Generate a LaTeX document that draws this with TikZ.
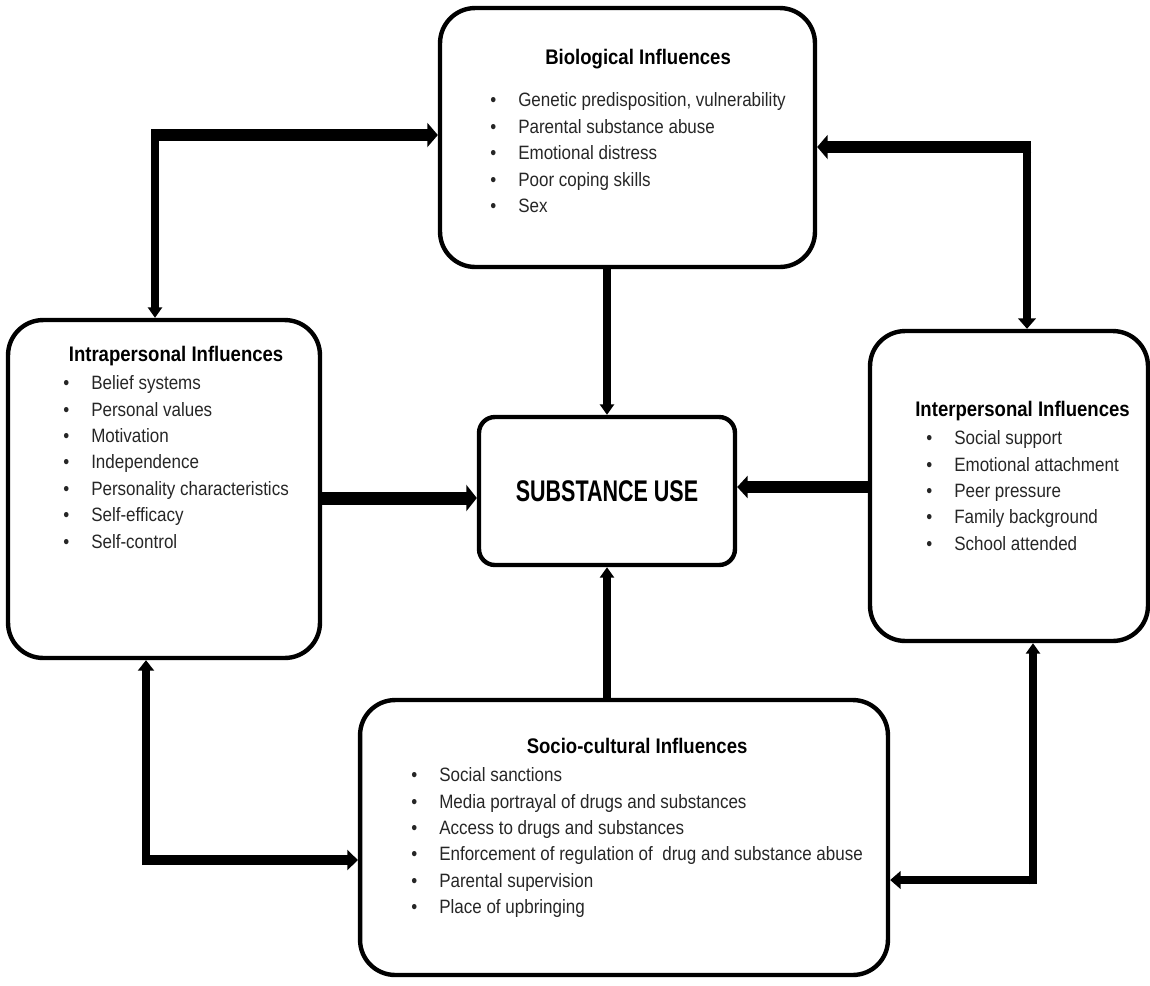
\documentclass[tikz,border=0pt]{standalone}
\usepackage{fontspec}
\setmainfont[FakeStretch=0.88]{Liberation Sans}
\newfontfamily\tallfont[FakeStretch=0.72]{Liberation Sans}
\usetikzlibrary{arrows.meta}

\newcommand{\headfont}{\fontsize{12}{15}\selectfont\bfseries\color{black}}
\newcommand{\itm}[1]{\textbullet & #1\\}
\newcommand{\boxtitle}[1]{\multicolumn{2}{@{}c@{}}{\makebox[0pt]{\headfont #1}}}

\begin{document}
\begin{tikzpicture}[
  x=0.02cm, y=-0.02cm,
  infbox/.style={draw, line width=2.5pt, rounded corners=20pt, inner sep=0pt},
  itemlist/.style={inner sep=0pt, anchor=north west,
    font=\fontsize{11}{15}\selectfont, text=black!85},
  link/.style={-{Triangle[length=6pt, width=0pt 2]}}
]
\useasboundingbox (0,0) rectangle (1150,985);

% boxes
\node[infbox, minimum width=7.5cm, minimum height=5.18cm] (bio) at (627.5,137.5) {};
\node[infbox, minimum width=6.24cm, minimum height=6.76cm] (intra) at (164,489) {};
\node[infbox, minimum width=5.56cm, minimum height=6.2cm] (interp) at (1009,486) {};
\node[infbox, minimum width=10.56cm, minimum height=5.5cm] (socio) at (624,837.5) {};
\node[infbox, rounded corners=9pt, minimum width=5.12cm, minimum height=2.96cm,
  font=\tallfont\fontsize{17}{20}\selectfont\bfseries] (subst) at (607,491) {SUBSTANCE USE};

% lists
\node[itemlist] (biolist) at (490,46) {%
  \begin{tabular}{@{}l@{\hspace{12.5pt}}l@{}}
  \boxtitle{Biological Influences}\\[9pt]
  \itm{Genetic predisposition, vulnerability}
  \itm{Parental substance abuse}
  \itm{Emotional distress}
  \itm{Poor coping skills}
  \itm{Sex}
  \end{tabular}};
\node[itemlist] (intralist) at (63,343) {%
  \begin{tabular}{@{}l@{\hspace{12.5pt}}l@{}}
  \boxtitle{Intrapersonal Influences}\\[1pt]
  \itm{Belief systems}
  \itm{Personal values}
  \itm{Motivation}
  \itm{Independence}
  \itm{Personality characteristics}
  \itm{Self-efficacy}
  \itm{Self-control}
  \end{tabular}};
\node[itemlist] (interplist) at (926,398) {%
  \begin{tabular}{@{}l@{\hspace{12.5pt}}l@{}}
  \boxtitle{Interpersonal Influences}\\[1pt]
  \itm{Social support}
  \itm{Emotional attachment}
  \itm{Peer pressure}
  \itm{Family background}
  \itm{School attended}
  \end{tabular}};
\node[itemlist] (sociolist) at (411,735) {%
  \begin{tabular}{@{}l@{\hspace{12.5pt}}l@{}}
  \boxtitle{Socio-cultural Influences}\\[1pt]
  \itm{Social sanctions}
  \itm{Media portrayal of drugs and substances}
  \itm{Access to drugs and substances}
  \itm{Enforcement of regulation of~ drug and substance abuse}
  \itm{Parental supervision}
  \itm{Place of upbringing}
  \end{tabular}};

% corners of the elbow connectors
\coordinate (tlc) at (155,135);
\coordinate (trc) at (1027,147);
\coordinate (blc) at (146,860);
\coordinate (brc) at (1033,880);
\coordinate (la) at (0,498);
\coordinate (ra) at (0,487);

% elbow connectors
\draw[link, line width=6.8pt] ([xshift=-2pt]tlc) -- (tlc -| bio.west);
\draw[link, line width=4pt] ([yshift=3.4pt]tlc) -- (tlc |- intra.north);
\draw[link, line width=6.8pt] ([xshift=2.5pt]trc) -- (trc -| bio.east);
\draw[link, line width=5pt] ([yshift=3.4pt]trc) -- (trc |- interp.north);
\draw[link, line width=4.5pt] ([yshift=-2.85pt]blc) -- (blc |- intra.south);
\draw[link, line width=5.7pt] ([xshift=-2.25pt]blc) -- (blc -| socio.west);
\draw[link, line width=4pt] ([yshift=-2.5pt]brc) -- (brc |- interp.south);
\draw[link, line width=5pt] ([xshift=2pt]brc) -- (brc -| socio.east);

% into substance use
\draw[link, line width=4pt] (subst.north |- bio.south) -- (subst.north);
\draw[link, line width=4pt] (subst.south |- socio.north) -- (subst.south);
\draw[link, line width=7.4pt] (intra.east |- la) -- (subst.west |- la);
\draw[link, line width=6.3pt] (interp.west |- ra) -- (subst.east |- ra);
\end{tikzpicture}
\end{document}
